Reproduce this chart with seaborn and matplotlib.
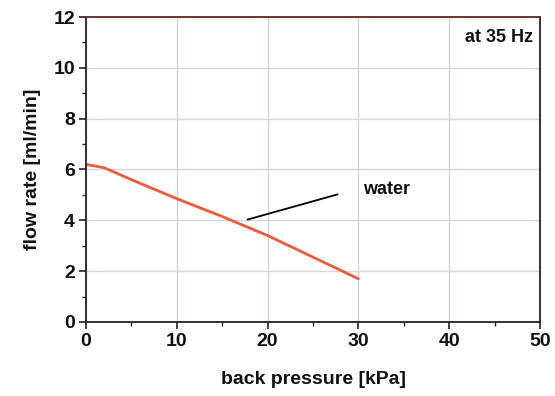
import matplotlib
matplotlib.use("Agg")
import matplotlib.pyplot as plt
import seaborn as sns
import pandas as pd
from matplotlib.ticker import MultipleLocator

pressure = [0, 2, 5, 10, 15, 17, 20, 25, 30]
flow = [6.2, 6.07, 5.6, 4.85, 4.15, 3.85, 3.4, 2.55, 1.7]
series_label = "water"
note = "at 35 Hz"

sns.set_theme(style="white")
plt.rcParams['font.family'] = ['Liberation Sans', 'DejaVu Sans']
plt.rcParams.update({"text.color": "#111111", "axes.labelcolor": "#111111",
                     "xtick.color": "#111111", "ytick.color": "#111111"})

df = pd.DataFrame({"p": pressure, "f": flow})
fig = plt.figure(figsize=(5.55, 3.96), dpi=100)
ax = fig.add_axes([0.155, 0.187, 0.818, 0.770])
sns.lineplot(data=df, x="p", y="f", ax=ax, color="#ee5a3a", lw=2)

ax.set_xlim(0, 50)
ax.set_ylim(0, 12)
ax.xaxis.set_major_locator(MultipleLocator(10))
ax.xaxis.set_minor_locator(MultipleLocator(5))
ax.yaxis.set_major_locator(MultipleLocator(2))
ax.yaxis.set_minor_locator(MultipleLocator(1))
ax.grid(True, which="major", axis="x", color="#c9d6e4", lw=1)
ax.grid(True, which="major", axis="y", color="#dcd4dc", lw=1)
ax.set_axisbelow(True)
for s in ax.spines.values():
    s.set_color("#2a2020")
    s.set_linewidth(1.3)
ax.spines["top"].set_color("#5a2a20")
ax.tick_params(which="major", direction="out", length=5, width=1.2, color="#2a2020",
               labelcolor="#111111", labelsize=14, pad=3, bottom=True, left=True)
ax.tick_params(which="minor", direction="out", length=3, width=1.0, color="#2a2020",
               bottom=True, left=True)
for lab in ax.get_xticklabels() + ax.get_yticklabels():
    lab.set_fontweight("bold")

ax.set_xlabel("back pressure [kPa]", fontsize=14, fontweight="bold", labelpad=15)
ax.set_ylabel("flow rate [ml/min]", fontsize=14, fontweight="bold", labelpad=9)

ax.annotate("", xy=(17.5, 4.0), xytext=(28, 5.05),
            arrowprops=dict(arrowstyle="-", color="black", lw=1.3))
ax.text(30.5, 5.2, series_label, fontsize=13, fontweight="bold", ha="left", va="center")
ax.text(49.2, 11.2, note, fontsize=13, fontweight="bold", ha="right", va="center")

fig.savefig("out.png", dpi=100)
